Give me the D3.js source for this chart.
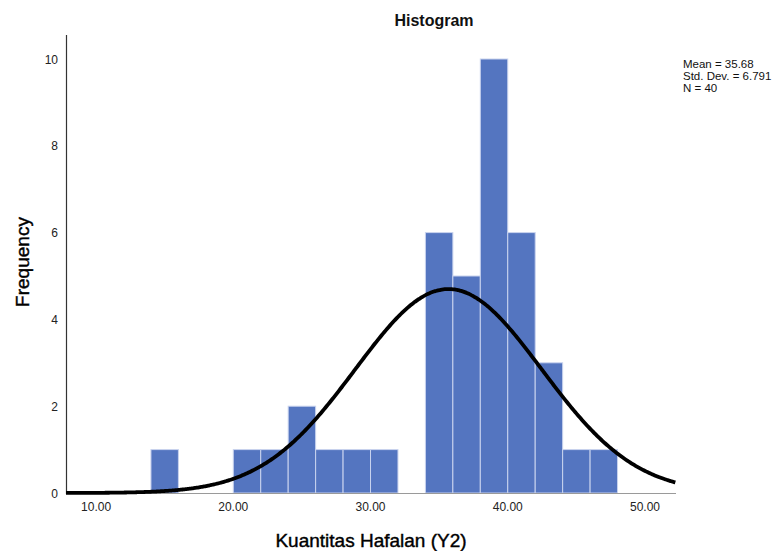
<!DOCTYPE html>
<html>
<head>
<meta charset="utf-8">
<script src="https://cdn.jsdelivr.net/npm/d3@7"></script>
<style>
  html, body { margin: 0; padding: 0; background: #fff; }
  text { font-family: Arial, "Liberation Sans", sans-serif; }
</style>
</head>
<body>
<svg id="chart" width="779" height="551"></svg>
<script>
// Data
const binStarts = [14, 16, 18, 20, 22, 24, 26, 28, 30, 32, 34, 36, 38, 40, 42, 44, 46];
const binCounts = [1, 0, 0, 1, 1, 2, 1, 1, 1, 0, 6, 5, 10, 6, 3, 1, 1];
const binWidth = 2;
const xTicks = [10, 20, 30, 40, 50];
const yTicks = [0, 2, 4, 6, 8, 10];
const stats = { mean: 35.68, sd: 6.791, n: 40 };
const statLabels = ["Mean = 35.68", "Std. Dev. = 6.791", "N = 40"];

(function () {
const svg = d3.select("#chart");
const pLeft = 66, pRight = 676, pTop = 35, pBottom = 493;

const x = d3.scaleLinear().domain([7.81, 52.26]).range([pLeft, pRight]);
const y = d3.scaleLinear().domain([0, 10]).range([pBottom, 59]);

// Bars
svg.append("g").selectAll("rect")
  .data(binStarts.map((s, i) => ({ s, c: binCounts[i] })).filter(d => d.c > 0))
  .join("rect")
  .attr("x", d => x(d.s))
  .attr("y", d => y(d.c))
  .attr("width", d => x(d.s + binWidth) - x(d.s))
  .attr("height", d => y(0) - y(d.c))
  .attr("fill", "#5475c0")
  .attr("stroke", "#c9d3ee")
  .attr("stroke-width", 1);

// X axis line
svg.append("line")
  .attr("x1", pLeft).attr("x2", pRight)
  .attr("y1", pBottom + 0.5).attr("y2", pBottom + 0.5)
  .attr("stroke", "#9a9a9a").attr("stroke-width", 1.2);

// Y axis line
svg.append("line")
  .attr("x1", pLeft + 0.5).attr("x2", pLeft + 0.5)
  .attr("y1", pTop).attr("y2", pBottom + 1)
  .attr("stroke", "#333").attr("stroke-width", 1.2);

// X tick labels
svg.append("g").selectAll("text")
  .data(xTicks).join("text")
  .attr("x", d => x(d))
  .attr("y", 511)
  .attr("text-anchor", "middle")
  .attr("font-size", 12)
  .attr("fill", "#222")
  .text(d => d.toFixed(2));

// Y tick labels
svg.append("g").selectAll("text")
  .data(yTicks).join("text")
  .attr("x", 58)
  .attr("y", d => y(d) + 4.5)
  .attr("text-anchor", "end")
  .attr("font-size", 12)
  .attr("fill", "#222")
  .text(d => d);

// Normal curve
const xs = d3.range(7.81, 52.27, 0.1);
const scale = stats.n * binWidth / (stats.sd * Math.sqrt(2 * Math.PI));
const curve = d3.line()
  .x(d => x(d))
  .y(d => y(scale * Math.exp(-0.5 * Math.pow((d - stats.mean) / stats.sd, 2))))
  .curve(d3.curveBasis);
svg.append("path")
  .datum(xs)
  .attr("d", curve)
  .attr("fill", "none")
  .attr("stroke", "#000")
  .attr("stroke-width", 3.8);

// Title
svg.append("text")
  .attr("x", 434).attr("y", 26)
  .attr("text-anchor", "middle")
  .attr("font-size", 16)
  .attr("font-weight", "bold")
  .attr("fill", "#111")
  .text("Histogram");

// Axis titles
svg.append("text")
  .attr("x", 371).attr("y", 547)
  .attr("text-anchor", "middle")
  .attr("font-size", 19)
  .attr("fill", "#000")
  .attr("stroke", "#000")
  .attr("stroke-width", 0.4)
  .text("Kuantitas Hafalan (Y2)");

svg.append("text")
  .attr("transform", "translate(29,262) rotate(-90)")
  .attr("text-anchor", "middle")
  .attr("font-size", 19)
  .attr("fill", "#000")
  .attr("stroke", "#000")
  .attr("stroke-width", 0.4)
  .text("Frequency");

// Stats box
svg.append("g").selectAll("text")
  .data(statLabels).join("text")
  .attr("x", 683)
  .attr("y", (d, i) => 68 + i * 12)
  .attr("font-size", 11.5)
  .attr("fill", "#111")
  .text(d => d);
})();
</script>
</body>
</html>
